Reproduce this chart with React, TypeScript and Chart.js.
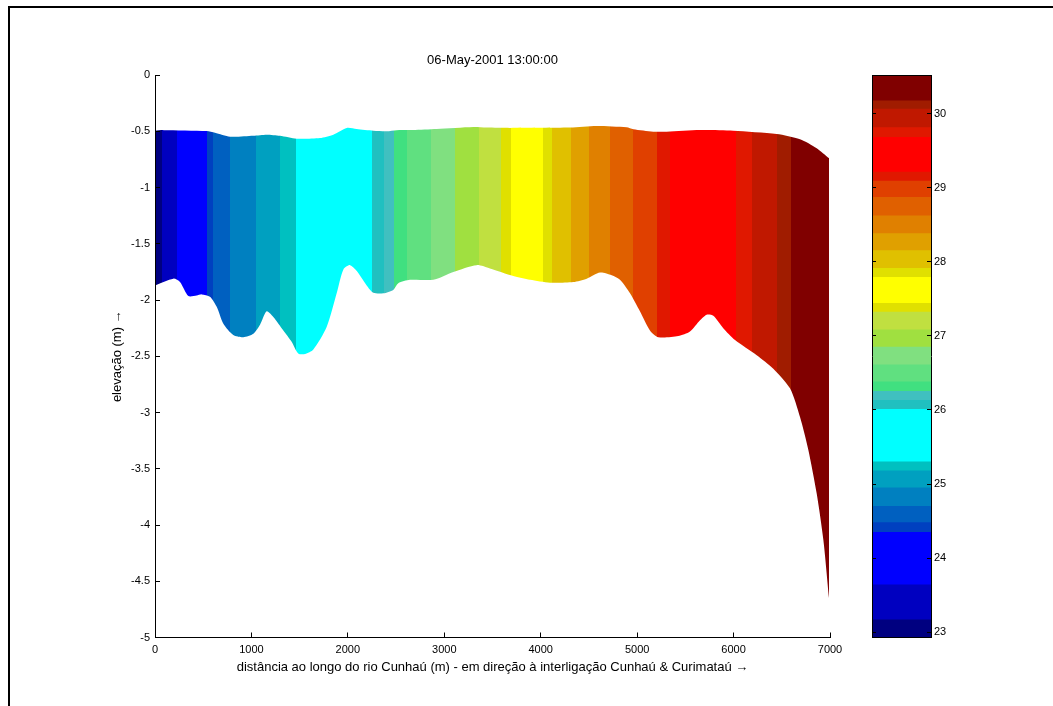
import React, { useEffect, useRef } from "react";
import { Chart, registerables } from "chart.js";

Chart.register(...registerables);

// ---------- texts ----------
const chartTitle = "06-May-2001 13:00:00";
const xAxisLabel =
  "distância ao longo do rio Cunhaú (m) - em direção à interligação Cunhaú & Curimataú →";
const yAxisLabel = "elevação (m) →";

// ---------- tick labels ----------
const xTicks = [0, 1000, 2000, 3000, 4000, 5000, 6000, 7000];
const yTicks = [0, -0.5, -1, -1.5, -2, -2.5, -3, -3.5, -4, -4.5, -5];
const colorbarTicks = [23, 24, 25, 26, 27, 28, 29, 30];

// ---------- water surface (top) ----------
const surfaceX = [
  0, 86, 536, 622, 778, 1020, 1158, 1296, 1469, 1711, 1849, 1988, 2091, 2264,
  2403, 2506, 2672, 2921, 3301, 3439, 3681, 4304, 4580, 4891, 4960, 5167, 5306,
  5652, 5997, 6447, 6689, 6862, 6990,
];
const surfaceY = [
  -0.495, -0.49, -0.498, -0.513, -0.548, -0.54, -0.53, -0.54, -0.566, -0.56,
  -0.53, -0.471, -0.48, -0.495, -0.5, -0.49, -0.489, -0.48, -0.462, -0.467,
  -0.47, -0.467, -0.453, -0.465, -0.483, -0.504, -0.504, -0.489, -0.495,
  -0.525, -0.572, -0.652, -0.741,
];

// ---------- river bed (bottom) ----------
const bedX = [
  0, 190, 259, 346, 432, 484, 570, 640, 709, 812, 916, 1020, 1089, 1158, 1227,
  1331, 1417, 1486, 1556, 1642, 1780, 1884, 1953, 2022, 2091, 2195, 2264, 2368,
  2471, 2523, 2644, 2886, 3094, 3336, 3474, 3716, 3889, 4096, 4338, 4477, 4615,
  4736, 4822, 4926, 5029, 5133, 5220, 5427, 5548, 5652, 5721, 5790, 5893, 6015,
  6240, 6412, 6585, 6689, 6775, 6862, 6931, 6990,
];
const bedY = [
  -1.87, -1.81, -1.84, -1.965, -1.96, -1.95, -1.97, -2.06, -2.21, -2.31, -2.33,
  -2.3, -2.22, -2.1, -2.15, -2.27, -2.37, -2.475, -2.48, -2.44, -2.24, -1.94,
  -1.73, -1.69, -1.74, -1.87, -1.935, -1.94, -1.91, -1.85, -1.82, -1.82, -1.75,
  -1.69, -1.72, -1.787, -1.82, -1.846, -1.84, -1.81, -1.756, -1.78, -1.82,
  -1.94, -2.1, -2.27, -2.33, -2.32, -2.28, -2.18, -2.13, -2.14, -2.25, -2.355,
  -2.49, -2.61, -2.785, -3.04, -3.33, -3.72, -4.13, -4.65,
];

// ---------- temperature bands along the river ----------
const bandEdgesX = [
  0, 69, 231, 543, 605, 778, 1044, 1296, 1459, 2247, 2375, 2478, 2610, 2866,
  3111, 3363, 3588, 3688, 4020, 4114, 4311, 4501, 4718, 4955, 5206, 5345, 6025,
  6188, 6447, 6595, 6990,
];
// contour levels (colorbar)
const levelEdges = [
  22.93, 23.17, 23.64, 24.35, 24.48, 24.7, 24.95, 25.18, 25.3, 26.01, 26.13,
  26.25, 26.38, 26.61, 26.85, 27.08, 27.32, 27.44, 27.79, 27.91, 28.15, 28.38,
  28.62, 28.87, 29.09, 29.21, 29.68, 29.81, 30.06, 30.17, 30.52,
];
const bandColors = [
  "#000080", "#0000C0", "#0000FF", "#0040C0", "#0060C0", "#0080C0", "#00A0C0",
  "#00C0C0", "#00FFFF", "#20C0C0", "#40C0C0", "#40E080", "#60E080", "#80E080",
  "#A0E040", "#C0E040", "#E0E000", "#FFFF00", "#E0E000", "#E0C000", "#E0A000",
  "#E08000", "#E06000", "#E04000", "#E01800", "#FF0000", "#E01800", "#C01800",
  "#A01C00", "#800000",
];

const FONT = "Arial, 'Liberation Sans', Helvetica, sans-serif";
const plain = (v: any) => String(v);

export default function App() {
  const mainRef = useRef<HTMLCanvasElement | null>(null);
  const barRef = useRef<HTMLCanvasElement | null>(null);

  useEffect(() => {
    Chart.defaults.font.family = FONT;
    Chart.defaults.color = "#000";

    const surfaceData = surfaceX.map((x, i) => ({ x, y: surfaceY[i] }));
    const bedData = bedX.map((x, i) => ({ x, y: bedY[i] }));

    const bandGradient = (ctx: any) => {
      const chart = ctx.chart;
      const xs = chart.scales && chart.scales.x;
      if (!chart.chartArea || !xs) return bandColors[0];
      const p0 = xs.getPixelForValue(bandEdgesX[0]);
      const p1 = xs.getPixelForValue(bandEdgesX[bandEdgesX.length - 1]);
      const g = chart.ctx.createLinearGradient(p0, 0, p1, 0);
      const span = bandEdgesX[bandEdgesX.length - 1] - bandEdgesX[0];
      for (let i = 0; i < bandColors.length; i++) {
        const a = (bandEdgesX[i] - bandEdgesX[0]) / span;
        const b = (bandEdgesX[i + 1] - bandEdgesX[0]) / span;
        g.addColorStop(Math.min(1, Math.max(0, a)), bandColors[i]);
        g.addColorStop(Math.min(1, Math.max(0, b)), bandColors[i]);
      }
      return g;
    };

    const main = new Chart(mainRef.current as HTMLCanvasElement, {
      type: "line",
      data: {
        datasets: [
          {
            data: surfaceData,
            fill: "+1",
            backgroundColor: bandGradient,
            borderWidth: 0,
            borderColor: "rgba(0,0,0,0)",
            pointRadius: 0,
            tension: 0.25,
          },
          {
            data: bedData,
            fill: false,
            borderWidth: 0,
            borderColor: "rgba(0,0,0,0)",
            pointRadius: 0,
            tension: 0.25,
          },
        ],
      },
      options: {
        responsive: false,
        animation: false,
        layout: { padding: { left: 0, right: 223, top: 0, bottom: 0 } },
        plugins: {
          legend: { display: false },
          tooltip: { enabled: false },
          title: {
            display: true,
            text: chartTitle,
            fullSize: false,
            color: "#000",
            font: { family: FONT, size: 13, weight: "normal" },
            padding: { top: 52.2, bottom: 7.2 },
          },
        },
        scales: {
          x: {
            type: "linear",
            min: 0,
            max: 7000,
            afterBuildTicks: (s: any) => {
              s.ticks = xTicks.map((v) => ({ value: v }));
            },
            afterFit: (s: any) => {
              s.height = 68.5;
            },
            ticks: {
              color: "#000",
              padding: 11,
              maxRotation: 0,
              autoSkip: false,
              callback: plain,
              font: { family: FONT, size: 11 },
            },
            grid: {
              drawOnChartArea: false,
              drawTicks: true,
              tickLength: -5,
              color: "#000",
              z: 1,
            },
            border: { display: true, color: "#000", width: 1, z: 1 },
            title: {
              display: true,
              text: xAxisLabel,
              color: "#000",
              font: { family: FONT, size: 13 },
              padding: { top: 0, bottom: 31.2 },
            },
          },
          y: {
            type: "linear",
            min: -5,
            max: 0,
            afterBuildTicks: (s: any) => {
              s.ticks = yTicks.map((v) => ({ value: v }));
            },
            afterFit: (s: any) => {
              s.width = 155;
            },
            ticks: {
              color: "#000",
              padding: 10,
              autoSkip: false,
              callback: plain,
              font: { family: FONT, size: 11 },
            },
            grid: {
              drawOnChartArea: false,
              drawTicks: true,
              tickLength: -5,
              color: "#000",
              z: 1,
            },
            border: { display: true, color: "#000", width: 1, z: 1 },
            title: {
              display: true,
              text: yAxisLabel,
              color: "#000",
              font: { family: FONT, size: 13 },
              padding: { top: 109.2, bottom: 0 },
            },
          },
        },
      },
    } as any);

    const bars = new Chart(barRef.current as HTMLCanvasElement, {
      type: "bar",
      data: {
        labels: [""],
        datasets: bandColors.map((c, i) => ({
          data: [[levelEdges[i], levelEdges[i + 1]]],
          backgroundColor: c,
          borderWidth: 0,
          grouped: false,
          barPercentage: 1,
          categoryPercentage: 1,
          xAxisID: "x",
          yAxisID: "y",
        })),
      },
      options: {
        responsive: false,
        animation: false,
        layout: { padding: 0 },
        plugins: {
          legend: { display: false },
          tooltip: { enabled: false },
          title: { display: false },
        },
        scales: {
          x: {
            type: "category",
            position: "bottom",
            afterFit: (s: any) => {
              s.height = 22.5;
            },
            ticks: { display: false },
            grid: { display: false, drawTicks: false },
            border: { display: true, color: "#000", width: 1, z: 1 },
          },
          xTop: {
            type: "category",
            position: "top",
            labels: [""],
            afterFit: (s: any) => {
              s.height = 15;
            },
            ticks: { display: false },
            grid: { display: false, drawTicks: false },
            border: { display: true, color: "#000", width: 1, z: 1 },
          },
          y: {
            type: "linear",
            position: "right",
            min: levelEdges[0],
            max: levelEdges[levelEdges.length - 1],
            afterBuildTicks: (s: any) => {
              s.ticks = colorbarTicks.map((v) => ({ value: v }));
            },
            afterFit: (s: any) => {
              s.width = 122;
            },
            ticks: {
              color: "#000",
              padding: 7,
              autoSkip: false,
              callback: plain,
              font: { family: FONT, size: 11 },
            },
            grid: {
              drawOnChartArea: false,
              drawTicks: true,
              tickLength: -4,
              color: "#000",
              z: 1,
            },
            border: { display: true, color: "#000", width: 1, z: 1 },
          },
          yLeft: {
            type: "linear",
            position: "left",
            min: levelEdges[0],
            max: levelEdges[levelEdges.length - 1],
            afterBuildTicks: (s: any) => {
              s.ticks = colorbarTicks.map((v) => ({ value: v }));
            },
            afterFit: (s: any) => {
              s.width = 10;
            },
            ticks: { display: false },
            grid: {
              drawOnChartArea: false,
              drawTicks: true,
              tickLength: -4,
              color: "#000",
              z: 1,
            },
            border: { display: true, color: "#000", width: 1, z: 1 },
          },
        },
      },
    } as any);

    return () => {
      main.destroy();
      bars.destroy();
    };
  }, []);

  return (
    <div
      style={{
        position: "absolute",
        left: 0,
        top: 0,
        width: 1053,
        height: 706,
        overflow: "hidden",
        background: "#fff",
      }}
    >
      <div
        style={{
          position: "absolute",
          left: 8,
          top: 6,
          width: 1045,
          height: 700,
          boxSizing: "border-box",
          borderTop: "2px solid #000",
          borderLeft: "2px solid #000",
        }}
      />
      <canvas
        ref={mainRef}
        width={1053}
        height={706}
        style={{ position: "absolute", left: 0, top: 0, display: "block" }}
      />
      <canvas
        ref={barRef}
        width={191}
        height={600}
        style={{ position: "absolute", left: 862, top: 60, display: "block" }}
      />
    </div>
  );
}
